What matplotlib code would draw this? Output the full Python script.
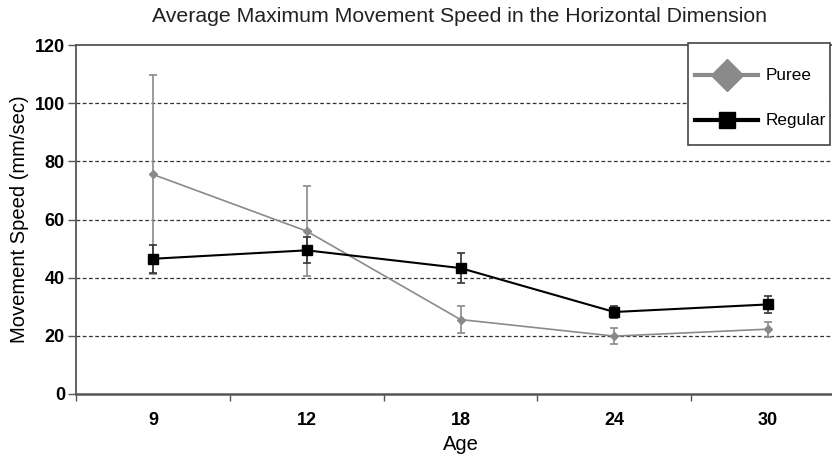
import matplotlib.pyplot as plt
from matplotlib.lines import Line2D
from matplotlib.patches import Rectangle

plt.rcParams.update({"font.family": ["Liberation Sans", "DejaVu Sans"]})

ages = ["9", "12", "18", "24", "30"]
puree = [75.5, 56.0, 25.6, 19.9, 22.3]
puree_err = [34.3, 15.5, 4.5, 2.8, 2.6]
regular = [46.5, 49.4, 43.3, 28.2, 30.8]
regular_err = [4.8, 4.5, 5.3, 2.0, 3.0]

W, H = 832, 466
GRAY = "#8a8a8a"


def fx(px):
    return px / W


def fy(py):
    return 1 - py / H


fig = plt.figure(figsize=(8.32, 4.66), dpi=100)
# axes run a little past the right edge, as in the cropped original
ax = fig.add_axes([fx(76), fy(394), fx(845 - 76), (394 - 45) / H])
x = list(range(len(ages)))

ax.errorbar(x, puree, yerr=puree_err, color=GRAY, lw=1.2, marker="D", ms=4,
            capsize=3, elinewidth=1.2, capthick=1.2, zorder=3)
ax.errorbar(x, regular, yerr=regular_err, color="black", lw=1.5, marker="s", ms=7,
            capsize=3, elinewidth=1.2, capthick=1.2, ecolor="#333", zorder=4)

ax.set_xlim(-0.5, 4.5)
ax.set_ylim(0, 120)
ax.set_yticks(range(0, 121, 20))
ax.set_xticks(x)
ax.set_xticklabels(ages)
ax.set_xticks([i + 0.5 for i in range(-1, 5)], minor=True)
ax.tick_params(axis="x", which="major", length=0, pad=13)
ax.tick_params(axis="x", which="minor", length=5, width=1, color="#555", direction="out")
ax.tick_params(axis="y", length=6, width=1, color="#555", direction="out", pad=2)
for lab in ax.get_xticklabels() + ax.get_yticklabels():
    lab.set_fontweight("bold")
    lab.set_fontsize(13)

for v in range(20, 101, 20):
    ax.axhline(v, color="#333", lw=0.9, ls=(0, (3, 2)), zorder=1)

for s in ax.spines.values():
    s.set_color("#555")
    s.set_linewidth(1.3)
ax.spines["bottom"].set_linewidth(1.8)

ax.set_xlabel("Age", fontsize=14.5, labelpad=4)
ax.set_ylabel("Movement Speed (mm/sec)", fontsize=14.5, labelpad=4)
fig.text(fx(460), fy(17), "Average Maximum Movement Speed in the Horizontal Dimension",
         ha="center", va="center", fontsize=15.3, color="#222")

# legend box, drawn by hand to match the original's spacing
fig.add_artist(Rectangle((fx(688), fy(145)), fx(830 - 688), (145 - 43) / H,
                         transform=fig.transFigure, fc="white", ec="#444", lw=1.2, zorder=10))
entries = [("Puree", GRAY, "D", 16, 75), ("Regular", "black", "s", 12, 120)]
for name, col, mk, size, py in entries:
    fig.add_artist(Line2D([fx(695), fx(758)], [fy(py), fy(py)], transform=fig.transFigure,
                          color=col, lw=3, zorder=11))
    fig.add_artist(Line2D([fx(726.5)], [fy(py)], transform=fig.transFigure, color=col,
                          marker=mk, ms=size, mec=col, zorder=12))
    fig.text(fx(766), fy(py), name, ha="left", va="center", fontsize=12.3, zorder=12)

fig.savefig("out.png", dpi=100)
